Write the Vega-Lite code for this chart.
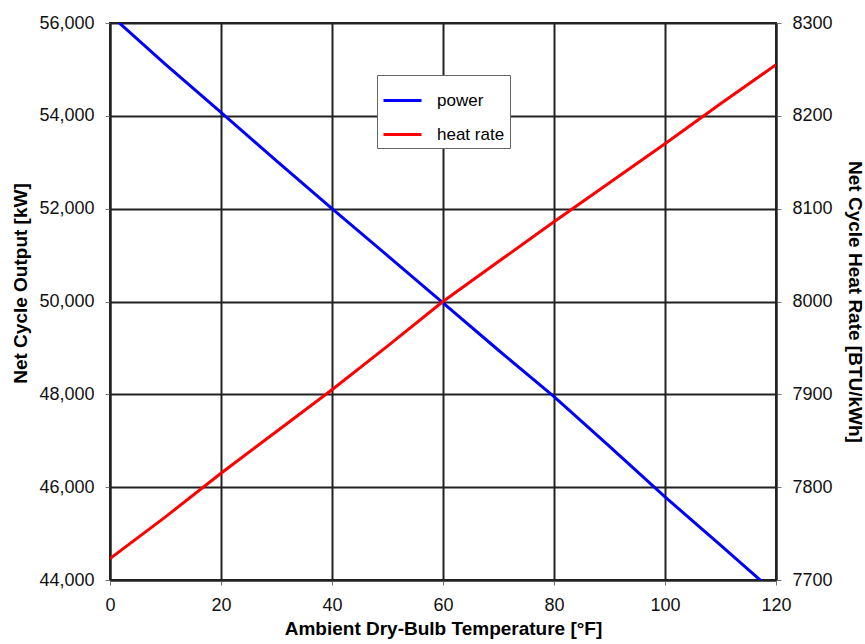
{
  "$schema": "https://vega.github.io/schema/vega-lite/v6.json",
  "width": 666,
  "height": 557,
  "autosize": {"type": "none"},
  "padding": {"left": 110, "top": 23, "right": 89, "bottom": 64},
  "background": "white",
  "config": {
    "view": {"stroke": "#222", "strokeWidth": 2},
    "font": "Liberation Sans",
    "axis": {
      "labelFont": "Liberation Sans",
      "labelFontSize": 18,
      "labelColor": "#111",
      "titleFont": "Liberation Sans",
      "titleFontSize": 19,
      "titleFontWeight": "bold",
      "titleColor": "#000",
      "tickColor": "#777",
      "tickSize": 5,
      "domainColor": "#222",
      "domainWidth": 2,
      "gridColor": "#222",
      "gridWidth": 2,
      "gridOpacity": 1
    }
  },
  "data": {
    "values": [
      {"temp": 0, "power": 56180, "heatrate": 7723},
      {"temp": 10, "power": 55110, "heatrate": 7768},
      {"temp": 20, "power": 54075, "heatrate": 7815},
      {"temp": 30, "power": 53030, "heatrate": 7860},
      {"temp": 40, "power": 52000, "heatrate": 7905},
      {"temp": 50, "power": 50990, "heatrate": 7952},
      {"temp": 60, "power": 49970, "heatrate": 8000},
      {"temp": 70, "power": 48950, "heatrate": 8043},
      {"temp": 80, "power": 47950, "heatrate": 8086},
      {"temp": 90, "power": 46880, "heatrate": 8128},
      {"temp": 100, "power": 45790, "heatrate": 8170},
      {"temp": 110, "power": 44750, "heatrate": 8213},
      {"temp": 120, "power": 43700, "heatrate": 8255}
    ]
  },
  "encoding": {
    "x": {
      "field": "temp",
      "type": "quantitative",
      "scale": {"domain": [0, 120], "nice": false, "zero": false},
      "axis": {
        "values": [0, 20, 40, 60, 80, 100, 120],
        "title": "Ambient Dry-Bulb Temperature [°F]",
        "labelPadding": 11,
        "titlePadding": 5,
        "grid": true,
        "labelFlush": false
      }
    }
  },
  "layer": [
    {
      "mark": {"type": "line", "strokeWidth": 3, "clip": true},
      "encoding": {
        "y": {
          "field": "power",
          "type": "quantitative",
          "scale": {"domain": [44000, 56000], "nice": false, "zero": false},
          "axis": {
            "orient": "left",
            "values": [44000, 46000, 48000, 50000, 52000, 54000, 56000],
            "format": ",d",
            "title": "Net Cycle Output [kW]",
            "titleY": 260,
            "labelPadding": 11,
            "titlePadding": 8,
            "grid": true,
            "labelFlush": false
          }
        },
        "color": {
          "datum": "power",
          "type": "nominal",
          "scale": {"domain": ["power", "heat rate"], "range": ["#0000ff", "#ff0000"]},
          "legend": {
            "title": null,
            "orient": "none",
            "legendX": 267,
            "legendY": 52,
            "symbolType": "stroke",
            "symbolSize": 1444,
            "symbolStrokeWidth": 3,
            "labelFont": "Liberation Sans",
            "labelFontSize": 17,
            "labelColor": "#000",
            "labelOffset": 14,
            "rowPadding": 5,
            "padding": 5,
            "strokeColor": "#666",
            "fillColor": "white"
          }
        }
      }
    },
    {
      "mark": {"type": "line", "strokeWidth": 3, "clip": true},
      "encoding": {
        "y": {
          "field": "heatrate",
          "type": "quantitative",
          "scale": {"domain": [7700, 8300], "nice": false, "zero": false},
          "axis": {
            "orient": "right",
            "values": [7700, 7800, 7900, 8000, 8100, 8200, 8300],
            "format": "d",
            "title": "Net Cycle Heat Rate [BTU/kWh]",
            "labelPadding": 11,
            "titlePadding": 12,
            "grid": false,
            "labelFlush": false
          }
        },
        "color": {"datum": "heat rate", "type": "nominal"}
      }
    }
  ],
  "resolve": {"scale": {"y": "independent"}}
}
